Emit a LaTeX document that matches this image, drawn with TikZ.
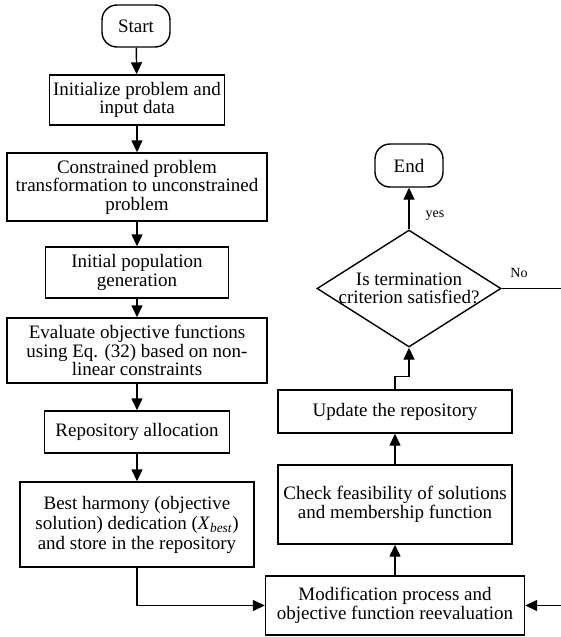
\documentclass[tikz,border=0pt]{standalone}
\usepackage{fontspec}
\setmainfont{Liberation Serif}
\usetikzlibrary{arrows.meta,shapes.geometric}
\begin{document}
\begin{tikzpicture}[x=1pt,y=-1pt,
  box/.style={draw,line width=1.4pt,rectangle,inner sep=0pt,align=center,
    font=\fontsize{19}{18.5}\selectfont},
  term/.style={box,rounded corners=15pt},
  flow/.style={line width=1.4pt,-{Triangle[length=12pt,width=11pt]}},
  lbl/.style={font=\fontsize{14}{16}\selectfont,inner sep=0pt}]
\useasboundingbox (0,0) rectangle (560,637);
% left column
\node[term,minimum width=68pt,minimum height=42pt] (start) at (136,26) {Start};
\node[box,minimum width=175pt,minimum height=50pt] (init) at (137,100) {Initialize problem and\\input data};
\node[box,minimum width=260pt,minimum height=68pt] (constr) at (137,187) {Constrained problem\\transformation to unconstrained\\problem};
\node[box,minimum width=183pt,minimum height=51pt] (initpop) at (137,272.5) {Initial population\\generation};
\node[box,minimum width=260pt,minimum height=65pt] (eval) at (137,350.5) {Evaluate objective functions\\using Eq. (32) based on non-\\linear constraints};
\node[box,minimum width=185pt,minimum height=42pt] (repo) at (137,432) {Repository allocation};
\node[box,minimum width=234pt,minimum height=85pt,font=\fontsize{19}{20}\selectfont] (best) at (137,524.5) {Best harmony (objective\\solution) dedication (\textit{X}\textsubscript{\textit{best}})\\and store in the repository};
% right column
\node[box,minimum width=259pt,minimum height=59pt] (mod) at (395,605.5) {Modification process and\\objective function reevaluation};
\node[box,minimum width=234pt,minimum height=79pt] (check) at (395,504.5) {Check feasibility of solutions\\and membership function};
\node[box,minimum width=234pt,minimum height=43pt] (update) at (395,411.5) {Update the repository};
\node[draw,line width=1.4pt,diamond,inner sep=0pt,minimum width=184pt,minimum height=117pt] (dec) at (409,288.5) {};
\node[align=center,inner sep=0pt,font=\fontsize{19}{18.5}\selectfont] (dectext) at (dec.center) {Is termination\\criterion satisfied?};
\node[term,minimum width=68pt,minimum height=43pt] (end) at (409,165.5) {End};
% connectors
\draw[flow] (start) -- (init);
\draw[flow] (init) -- (constr);
\draw[flow] (constr) -- (initpop);
\draw[flow] (initpop) -- (eval);
\draw[flow] (eval) -- (repo);
\draw[flow] (repo) -- (best);
\draw[flow] (best.south) |- (mod.west);
\draw[flow] (mod) -- (check);
\draw[flow] (check) -- (update);
\draw[flow] (update.north) -- ++(0,-13) -| (dec.south);
\draw[flow] (dec.north) -- (end.south);
\coordinate (rightturn) at (620,288.5);
\draw[flow] (dec.east) -- (rightturn) |- (mod.east);
\node[lbl] (yes) at (435,216) {yes};
\node[lbl] (no) at (519,273) {No};
\end{tikzpicture}
\end{document}
